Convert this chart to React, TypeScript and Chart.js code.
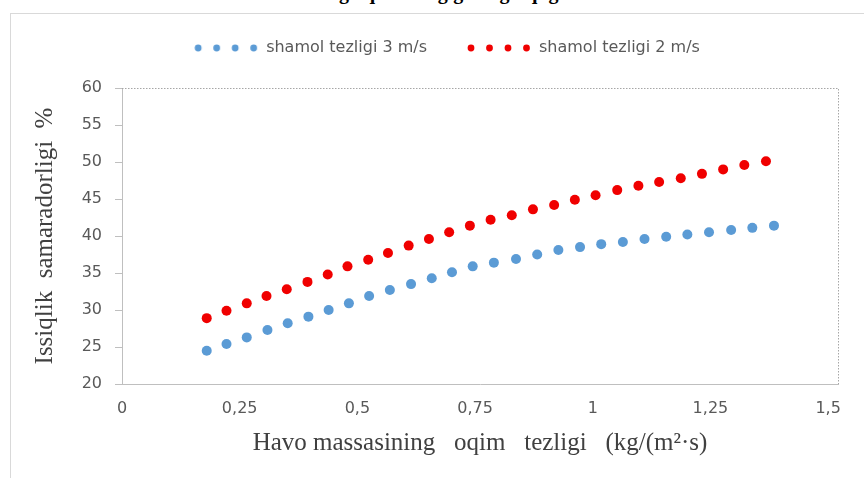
import React, { useEffect, useRef } from "react";
import { Chart, registerables } from "chart.js";

Chart.register(...registerables);

const chartTitle = "Havo massasining oqim tezligiga bog'liqligi";
const seriesLabels = ["shamol tezligi 3 m/s", "shamol tezligi 2 m/s"];
const xAxisTitle = "Havo massasining   oqim   tezligi   (kg/(m²·s)";
const yAxisTitle = "Issiqlik  samaradorligi  %";
const xTickValues = [0, 0.25, 0.5, 0.75, 1, 1.25, 1.5];
const yTickValues = [20, 25, 30, 35, 40, 45, 50, 55, 60];

const flowRate3 = [
  0.18, 0.222, 0.265, 0.309, 0.352, 0.396, 0.439, 0.482, 0.525, 0.569, 0.614, 0.658, 0.701, 0.745,
  0.79, 0.837, 0.882, 0.927, 0.973, 1.018, 1.064, 1.11, 1.156, 1.201, 1.247, 1.294, 1.339, 1.385,
];
const efficiency3 = [
  24.5, 25.4, 26.3, 27.3, 28.2, 29.1, 30.0, 30.9, 31.9, 32.7, 33.5, 34.3, 35.1, 35.9,
  36.4, 36.9, 37.5, 38.1, 38.5, 38.9, 39.2, 39.6, 39.9, 40.2, 40.5, 40.8, 41.1, 41.4,
];
const flowRate2 = [
  0.18, 0.222, 0.265, 0.307, 0.35, 0.394, 0.437, 0.479, 0.523, 0.565, 0.609, 0.652, 0.695, 0.739,
  0.783, 0.828, 0.873, 0.918, 0.962, 1.006, 1.052, 1.097, 1.141, 1.187, 1.232, 1.277, 1.322, 1.368,
];
const efficiency2 = [
  28.9, 29.9, 30.9, 31.9, 32.8, 33.8, 34.8, 35.9, 36.8, 37.7, 38.7, 39.6, 40.5, 41.4,
  42.2, 42.8, 43.6, 44.2, 44.9, 45.5, 46.2, 46.8, 47.3, 47.8, 48.4, 49.0, 49.6, 50.1,
];

const seriesColors = ["#5B9BD5", "#F00000"];

function makeLegendSwatch(color: string): HTMLCanvasElement {
  const c = document.createElement("canvas");
  c.width = 64;
  c.height = 10;
  const ctx = c.getContext("2d")!;
  ctx.fillStyle = color;
  for (let i = 0; i < 4; i++) {
    ctx.beginPath();
    ctx.arc(4 + i * 18.5, 5, 3.4, 0, Math.PI * 2);
    ctx.fill();
  }
  return c;
}

const plotFramePlugin = {
  id: "plotFrame",
  afterDraw(chart: any) {
    const { ctx, chartArea } = chart;
    ctx.save();
    ctx.strokeStyle = "#a6a6a6";
    ctx.lineWidth = 1;
    ctx.setLineDash([1.5, 1.5]);
    ctx.beginPath();
    ctx.moveTo(chartArea.left, Math.round(chartArea.top) + 0.5);
    ctx.lineTo(Math.round(chartArea.right) + 0.5, Math.round(chartArea.top) + 0.5);
    ctx.lineTo(Math.round(chartArea.right) + 0.5, chartArea.bottom);
    ctx.stroke();
    ctx.restore();
  },
};

export default function App() {
  const canvasRef = useRef<HTMLCanvasElement | null>(null);

  useEffect(() => {
    document.body.style.margin = "0";
    document.body.style.background = "#ffffff";
    const swatches = seriesColors.map(makeLegendSwatch);
    const toPoints = (xs: number[], ys: number[]) => xs.map((x, i) => ({ x, y: ys[i] }));

    const chart = new Chart(canvasRef.current!, {
      type: "scatter",
      data: {
        datasets: [
          {
            label: seriesLabels[0],
            data: toPoints(flowRate3, efficiency3),
            backgroundColor: seriesColors[0],
            borderColor: seriesColors[0],
            pointRadius: 5,
            pointBorderWidth: 0,
            showLine: false,
            xAxisID: "x",
            yAxisID: "y",
          },
          {
            label: seriesLabels[1],
            data: toPoints(flowRate2, efficiency2),
            backgroundColor: seriesColors[1],
            borderColor: seriesColors[1],
            pointRadius: 5,
            pointBorderWidth: 0,
            showLine: false,
            xAxisID: "x",
            yAxisID: "y",
          },
        ],
      },
      options: {
        animation: false,
        responsive: false,
        devicePixelRatio: 1,
        layout: { padding: { left: 56, right: 26, top: 0, bottom: 0 } },
        plugins: {
          tooltip: { enabled: false },
          title: { display: false },
          legend: {
            display: true,
            position: "top",
            labels: {
              usePointStyle: true,
              pointStyleWidth: 64,
              padding: 40,
              color: "#595959",
              font: { family: "DejaVu Sans", size: 16 },
              generateLabels: (chart: any) =>
                chart.data.datasets.map((ds: any, i: number) => ({
                  text: ds.label,
                  fillStyle: seriesColors[i],
                  strokeStyle: seriesColors[i],
                  lineWidth: 0,
                  pointStyle: swatches[i],
                  hidden: false,
                  datasetIndex: i,
                  fontColor: "#595959",
                })),
            },
          },
        },
        scales: {
          x: {
            type: "linear",
            position: "bottom",
            min: 0,
            max: 1.521,
            afterBuildTicks: (s: any) => {
              s.ticks = xTickValues.map((v) => ({ value: v }));
            },
            afterFit: (s: any) => {
              s.height = 94;
            },
            ticks: {
              color: "#595959",
              font: { family: "DejaVu Sans", size: 16 },
              padding: 15,
              maxRotation: 0,
              autoSkip: false,
              callback: (v: any) => String(v).replace(".", ","),
            },
            grid: { display: true, drawOnChartArea: false, drawTicks: false, color: "#bfbfbf" },
            border: { display: true, color: "#bfbfbf", width: 1 },
            title: {
              display: true,
              text: xAxisTitle,
              color: "#404040",
              font: { family: "Liberation Serif", size: 25 },
              padding: { top: 0, bottom: 20 },
            },
          },
          xTop: {
            type: "linear",
            position: "top",
            display: true,
            afterFit: (s: any) => {
              s.height = 22;
            },
            ticks: { display: false },
            grid: { display: false, drawTicks: false },
            border: { display: false },
          },
          y: {
            type: "linear",
            position: "left",
            min: 20,
            max: 60,
            afterBuildTicks: (s: any) => {
              s.ticks = yTickValues.map((v) => ({ value: v }));
            },
            afterFit: (s: any) => {
              s.width = 66;
            },
            ticks: {
              color: "#595959",
              font: { family: "DejaVu Sans", size: 16 },
              padding: 13,
            },
            grid: { display: true, drawOnChartArea: false, drawTicks: true, tickLength: 7, color: "#bfbfbf" },
            border: { display: true, color: "#bfbfbf", width: 1 },
            title: {
              display: true,
              text: yAxisTitle,
              color: "#404040",
              font: { family: "Liberation Serif", size: 25 },
              padding: { top: -26, bottom: 0 },
            },
          },
        },
      },
      plugins: [plotFramePlugin],
    } as any);

    return () => chart.destroy();
  }, []);

  return (
    <div style={{ position: "relative", width: 864, height: 478, overflow: "hidden", background: "#fff" }}>
      <div
        style={{
          position: "absolute",
          left: 10,
          top: 13,
          width: 900,
          height: 520,
          border: "1px solid #d9d9d9",
          boxSizing: "border-box",
        }}
      />
      <div
        style={{
          position: "absolute",
          left: 195,
          top: -18,
          lineHeight: "20px",
          fontFamily: "Liberation Serif",
          fontWeight: "bold",
          fontSize: 20,
          color: "#000",
          whiteSpace: "nowrap",
        }}
      >
        {chartTitle}
      </div>
      <canvas ref={canvasRef} width={864} height={478} style={{ position: "absolute", left: 0, top: 0 }} />
    </div>
  );
}
